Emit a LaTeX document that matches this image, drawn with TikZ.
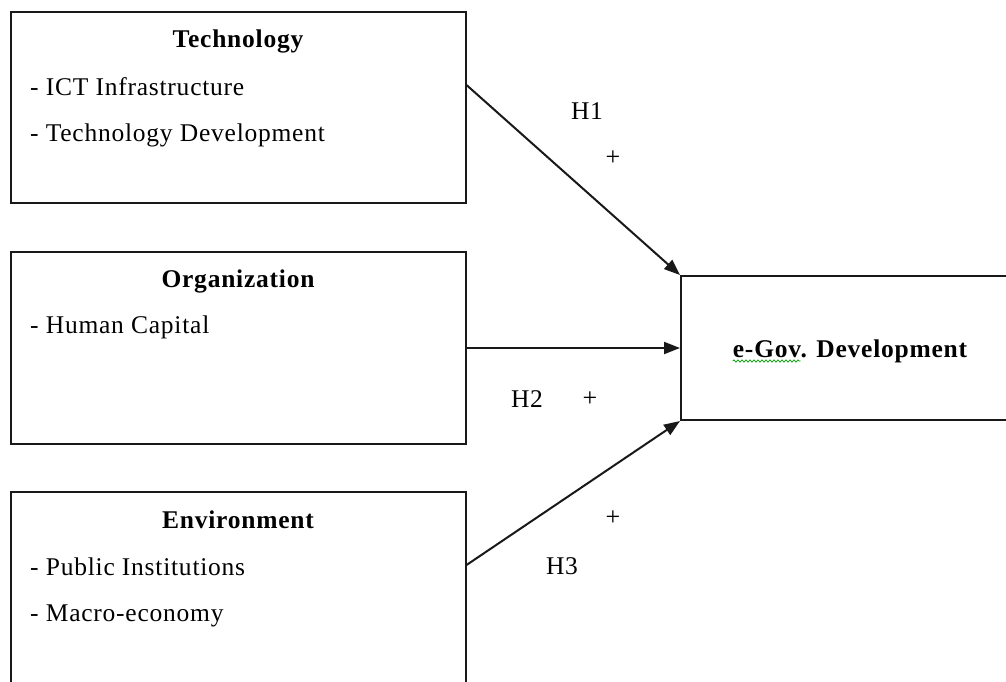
\documentclass[tikz,border=0pt]{standalone}
\usepackage{fontspec}
\setmainfont{Liberation Serif}[LetterSpace=3]
\usetikzlibrary{arrows.meta,decorations.pathmorphing}
\begin{document}
\begin{tikzpicture}[x=1pt,y=-1pt,
  every node/.style={font=\fontsize{25.5}{30}\selectfont},
  box/.style={draw=black!90,line width=2pt,rectangle,inner sep=0pt},
  title/.style={anchor=base,inner sep=0pt,font=\fontsize{25.5}{30}\selectfont\bfseries},
  item/.style={anchor=base west,inner sep=0pt},
  lbl/.style={anchor=base,inner sep=0pt},
  plus/.style={inner sep=0pt,font=\fontsize{26}{30}\selectfont},
  arr/.style={line width=2pt,draw=black!90,-{Triangle[length=16pt,width=12pt]}}]
\useasboundingbox (0,0) rectangle (1006,681);
\clip (0,0) rectangle (1006,681);

% factor boxes
\node[box,minimum width=455pt,minimum height=191pt] (tech) at (238,107.5) {};
\node[box,minimum width=455pt,minimum height=192pt] (org) at (238,348) {};
\node[box,minimum width=455pt,minimum height=192pt] (env) at (238,588) {};
% outcome box
\node[box,minimum width=345pt,minimum height=144pt] (egov) at (853.5,348) {};

% box contents
\node[title] (techT) at (238,47) {Technology};
\node[item] (tech1) at (30,95) {- ICT Infrastructure};
\node[item] (tech2) at (30,141) {- Technology Development};

\node[title] (orgT) at (238,287) {Organization};
\node[item] (org1) at (30,333) {- Human Capital};

\node[title] (envT) at (238,528) {Environment};
\node[item] (env1) at (30,575) {- Public Institutions};
\node[item] (env2) at (30,621) {- Macro-economy};

\node[title] (egovT) at (850,357) {e-Gov. Development};
\draw[green!60!black,line width=0.7pt,decorate,
  decoration={snake,segment length=4pt,amplitude=1.2pt}]
  ([yshift=-4pt]egovT.base west) -- ++(68,0);

% hypotheses
\draw[arr] (tech.east |- 0,85) -- (egov.north west);
\draw[arr] (org.east |- 0,348) -- (egov.west);
\draw[arr] (env.east |- 0,565) -- (egov.south west);

\node[lbl] (h1) at (587,119) {H1};
\node[plus] (p1) at (613,158) {+};
\node[lbl] (h2) at (527,407) {H2};
\node[plus] (p2) at (590,399) {+};
\node[plus] (p3) at (613,518) {+};
\node[lbl] (h3) at (562,574) {H3};
\end{tikzpicture}
\end{document}
